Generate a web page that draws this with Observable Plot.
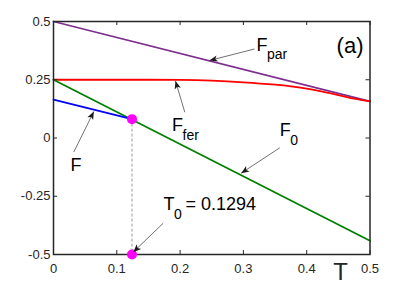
<!DOCTYPE html>
<html><head><meta charset="utf-8">
<script src="https://cdn.jsdelivr.net/npm/d3@7"></script>
<script src="https://cdn.jsdelivr.net/npm/@observablehq/plot@0.6"></script>
<style>
body{margin:0;background:#fff;}
svg{overflow:visible}
</style>
</head><body><div id="chart"></div>
<script>
// ---- data ----
const xTicks = [0, 0.1, 0.2, 0.3, 0.4, 0.5];
const yTicks = [-0.5, -0.25, 0, 0.25, 0.5];

const T_par = [0, 0.5];
const F_par = [0.5, 0.157];

const T_fer = [0, 0.1, 0.2, 0.25, 0.3, 0.35, 0.375, 0.4, 0.425, 0.45, 0.475, 0.5];
const F_fer = [0.25, 0.25, 0.2495, 0.246, 0.239, 0.229, 0.222, 0.212, 0.199, 0.184, 0.169, 0.157];

const T_zero = [0, 0.5];
const F_zero = [0.25, -0.441];

const T_F = [0, 0.124];
const F_F = [0.165, 0.081];

const T0 = 0.124;
const dotF = [0.081, -0.5];

// labels: main letter, subscript, anchor position (data coords)
const labelMain = ["F", "F", "F", "F", "T"];
const labelSub  = ["par", "fer", "", "0", "0"];
const labelT    = [0.3207, 0.1872, 0.0269, 0.3575, 0.1738];
const labelF    = [0.3755, 0.029, -0.1425, 0.0077, -0.31];
const t0Value   = "= 0.1294";

// annotation arrows: tail (1) -> head (2)
const arrowT1 = [0.3175, 0.2074, 0.0321, 0.3575, 0.1733];
const arrowF1 = [0.382, 0.1107, -0.0601, -0.042, -0.3657];
const arrowT2 = [0.2464, 0.1927, 0.0637, 0.2965, 0.1259];
const arrowF2 = [0.3326, 0.245, 0.1137, -0.151, -0.49];

const panelLabel = "(a)";
const panelT = 0.4897, panelF = 0.364;
const xLabel = "T";
const xLabelT = 0.4534;

// ---- layout ----
const W = 409, H = 286;
const mL = 53, mR = 39.5, mT = 21, mB = 32;
const innerW = W - mL - mR, innerH = H - mT - mB;
const ink = "#262626";

const pts = (xs, ys) => xs.map((x, i) => ({x, y: ys[i]}));
const idx = labelMain.map((_, i) => i);
const subIdx = idx.filter(i => labelSub[i] !== "");

function headMarker(color, context) {
  const m = d3.create("svg:marker")
    .attr("viewBox", "-9 -4 10 8")
    .attr("markerWidth", 10).attr("markerHeight", 8)
    .attr("markerUnits", "userSpaceOnUse")
    .attr("orient", "auto")
    .attr("fill", "#1a1a1a").attr("stroke", "none");
  m.append("path").attr("d", "M0,0L-8,-3.2L-6,0L-8,3.2Z");
  return m.node();
}

function build(marker) {
  return Plot.plot({
    width: W, height: H,
    marginLeft: mL, marginRight: mR, marginTop: mT, marginBottom: mB,
    style: {fontFamily: "'Liberation Sans', Arial, Helvetica, sans-serif", background: "#fff", overflow: "visible"},
    x: {domain: [0, 0.5]},
    y: {domain: [-0.5, 0.5]},
    marks: [
      // curves
      Plot.line(pts(T_par, F_par), {x: "x", y: "y", stroke: "#7E2F8E", strokeWidth: 1.8}),
      Plot.line(pts(T_fer, F_fer), {x: "x", y: "y", stroke: "#ff0000", strokeWidth: 1.8, curve: "catmull-rom"}),
      Plot.line(pts(T_zero, F_zero), {x: "x", y: "y", stroke: "#008000", strokeWidth: 1.8}),
      Plot.line(pts(T_F, F_F), {x: "x", y: "y", stroke: "#0000ff", strokeWidth: 1.8}),
      // dashed guide
      Plot.ruleX([T0], {x: d => d, y1: dotF[0], y2: dotF[1], stroke: "#9a9a9a", strokeWidth: 1, strokeDasharray: "3,2"}),
      // frame & ticks (inward, all sides)
      Plot.frame({stroke: ink, strokeWidth: 1.5}),
      Plot.ruleX(xTicks, {x: d => d, insetTop: innerH - 4, stroke: ink}),
      Plot.ruleX(xTicks, {x: d => d, insetBottom: innerH - 4, stroke: ink}),
      Plot.ruleY(yTicks, {y: d => d, insetRight: innerW - 4, stroke: ink}),
      Plot.ruleY(yTicks, {y: d => d, insetLeft: innerW - 4, stroke: ink}),
      Plot.axisX(xTicks, {anchor: "bottom", tickSize: 0, tickPadding: 9, tickFormat: d => String(d), fontSize: 13, fill: ink, label: null}),
      Plot.axisY(yTicks, {anchor: "left", tickSize: 0, tickPadding: 3, tickFormat: d => String(d), fontSize: 13, fill: ink, label: null}),
      // dots
      Plot.dot(dotF, {x: () => T0, y: d => d, r: 5, fill: "#ff00ff", stroke: "none"}),
      // arrows
      Plot.link(idx, {x1: i => arrowT1[i], y1: i => arrowF1[i], x2: i => arrowT2[i], y2: i => arrowF2[i],
        stroke: "#333", strokeWidth: 0.7, markerEnd: marker}),
      // labels
      Plot.text(idx, {x: i => labelT[i], y: i => labelF[i], text: i => labelMain[i],
        textAnchor: "start", lineAnchor: "bottom", fontSize: 18, fill: "#000"}),
      Plot.text(subIdx, {x: i => labelT[i], y: i => labelF[i], text: i => labelSub[i],
        textAnchor: "start", lineAnchor: "bottom", fontSize: 14, dx: 10.5, dy: 8.5, fill: "#000"}),
      Plot.text([t0Value], {x: labelT[4], y: labelF[4], text: d => d,
        textAnchor: "start", lineAnchor: "bottom", fontSize: 18, dx: 22, fill: "#000"}),
      Plot.text([panelLabel], {x: panelT, y: panelF, text: d => d, textAnchor: "end", lineAnchor: "bottom", fontSize: 22, fill: "#000"}),
      Plot.text([xLabel], {x: xLabelT, y: -0.5, text: d => d, textAnchor: "middle", lineAnchor: "bottom", fontSize: 24, dy: 25, fill: ink})
    ]
  });
}

let chart;
try { chart = build(headMarker); } catch (e) { chart = build("arrow"); }
document.getElementById("chart").append(chart);
</script>
</body></html>
